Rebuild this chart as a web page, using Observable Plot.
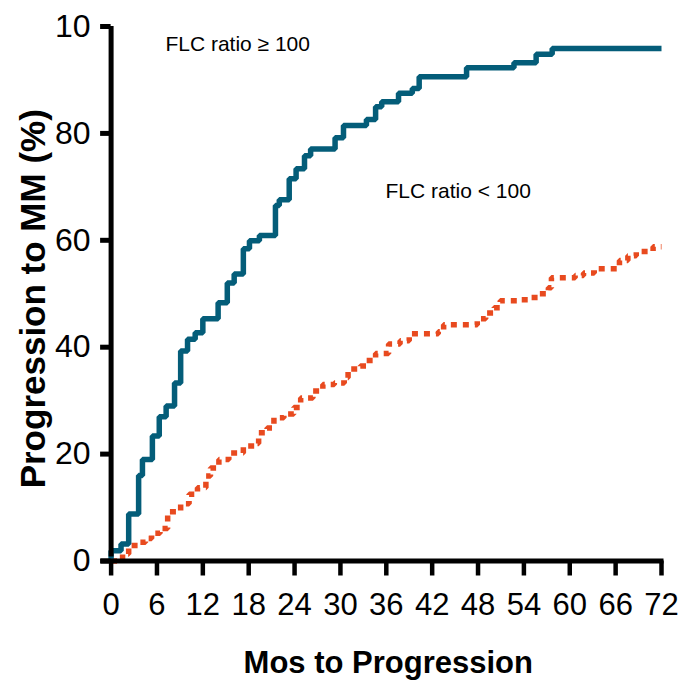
<!DOCTYPE html>
<html><head><meta charset="utf-8">
<script src="https://cdn.jsdelivr.net/npm/d3@7"></script>
<script src="https://cdn.jsdelivr.net/npm/@observablehq/plot@0.6"></script>
<style>html,body{margin:0;padding:0;background:#fff}</style>
</head><body><div id="chart"></div>
<script>
// FLC ratio >= 100 (cumulative progression, %)
const highMonths = [0, 0, 1.3, 2.3, 3.6, 4.1, 5.4, 6.3, 7.2, 8.3, 9.1, 10, 11, 12, 14, 15.2, 16.1, 17.3, 18.1, 19.4, 21.5, 22.0, 23.3, 24.2, 25.3, 26.1, 29.3, 30.4, 33.4, 34.6, 35.4, 37.6, 39.4, 40.3, 46.5, 52.7, 55.6, 57.7, 72];
const highPct    = [0, 1.9, 3.2, 8.8, 16, 19, 23.4, 27, 29, 33.3, 39.3, 41.5, 42.7, 45.3, 48.3, 52, 53.7, 58.4, 59.9, 60.9, 66.5, 67.6, 71.5, 73.4, 75.8, 77.1, 79.2, 81.5, 82.6, 85, 85.9, 87.5, 88.4, 90.6, 92.3, 93.2, 94.8, 95.9, 95.9];
// FLC ratio < 100
const lowMonths = [0, 1.5, 2.3, 3.5, 4.5, 5.3, 6.4, 7.4, 9.1, 10.2, 11.3, 12.4, 13, 14.1, 15.4, 17.3, 19.1, 19.3, 20.4, 21.3, 22.6, 23.9, 24.8, 26.4, 27.7, 29.2, 30.5, 31, 32.6, 33.4, 34.6, 36.3, 37.8, 39, 42.8, 43.5, 47.9, 49, 50.1, 50.9, 53.7, 55, 56, 57.2, 57.6, 60.7, 61.8, 63.2, 66.5, 67.6, 68.7, 70.9, 72];
const lowPct    = [0, 1.3, 2.9, 3.5, 4.2, 5.2, 6.1, 9.2, 10.7, 12.5, 13.7, 15.9, 17.4, 19, 20.2, 21.5, 22, 24, 24.9, 26.8, 27.5, 28.7, 30.5, 31.8, 33, 33.3, 34.3, 35.9, 36.5, 37.5, 38.8, 40.6, 41.2, 42.5, 42.9, 44.2, 45.3, 46.4, 47.4, 48.7, 48.9, 49.3, 50, 51.1, 53, 53.4, 53.9, 54.7, 56.2, 57.1, 57.9, 58.8, 58.8];

const xTicks = [0, 6, 12, 18, 24, 30, 36, 42, 48, 54, 60, 66, 72];
const yTicks = [0, 20, 40, 60, 80, 100];
const yTickLabels = ["0", "20", "40", "60", "80", "10"];
const labelHigh = "FLC ratio \u2265 100";
const labelLow = "FLC ratio < 100";
const xTitle = "Mos to Progression";
const yTitle = "Progression to MM (%)";

const BLUE = "#045d79";
const RED = "#e84a1f";

const high = highMonths.map((m, i) => ({month: m, pct: highPct[i]}));
const low = lowMonths.map((m, i) => ({month: m, pct: lowPct[i]}));

const chart = Plot.plot({
  width: 678, height: 684,
  marginLeft: 110.6, marginRight: 17, marginTop: 26, marginBottom: 123.5,
  style: {fontFamily: "'Liberation Sans', Arial, sans-serif", background: "#fff", color: "#000", overflow: "visible"},
  x: {domain: [0, 72]},
  y: {domain: [0, 100]},
  marks: [
    Plot.line(low, {x: "month", y: "pct", curve: "step-after", stroke: RED, strokeWidth: 5.5, strokeDasharray: "6,6", strokeLinecap: "butt", strokeLinejoin: "miter"}),
    Plot.line(high, {x: "month", y: "pct", curve: "step-after", stroke: BLUE, strokeWidth: 5.5, strokeLinecap: "butt", strokeLinejoin: "miter"}),
    Plot.ruleX([0], {y1: 0, y2: 100, strokeWidth: 5, insetTop: -4}),
    Plot.ruleY([0], {x1: 0, x2: 72, strokeWidth: 5, insetLeft: -10, insetRight: -2.5}),
    Plot.axisX({ticks: xTicks, tickSize: 15, tickPadding: 17, strokeWidth: 4.5, fontSize: 31, label: null, tickFormat: d => String(d)}),
    Plot.axisY({ticks: yTicks, tickSize: 10.5, tickPadding: 10, strokeWidth: 5, fontSize: 32, label: null, tickFormat: d => yTickLabels[yTicks.indexOf(d)]}),
    Plot.text([labelHigh], {x: 7.1, y: 96.7, text: d => d, textAnchor: "start", lineAnchor: "middle", fontSize: 21}),
    Plot.text([labelLow], {x: 35.9, y: 69.1, text: d => d, textAnchor: "start", lineAnchor: "middle", fontSize: 21}),
    Plot.text([xTitle], {frameAnchor: "bottom", text: d => d, dx: 2, dy: 102.5, textAnchor: "middle", lineAnchor: "middle", fontSize: 31, fontWeight: "bold"}),
    Plot.text([yTitle], {frameAnchor: "left", text: d => d, rotate: -90, dx: -77, dy: 5, textAnchor: "middle", lineAnchor: "middle", fontSize: 35, fontWeight: "bold"})
  ]
});
document.getElementById("chart").appendChild(chart);
</script>
</body></html>
